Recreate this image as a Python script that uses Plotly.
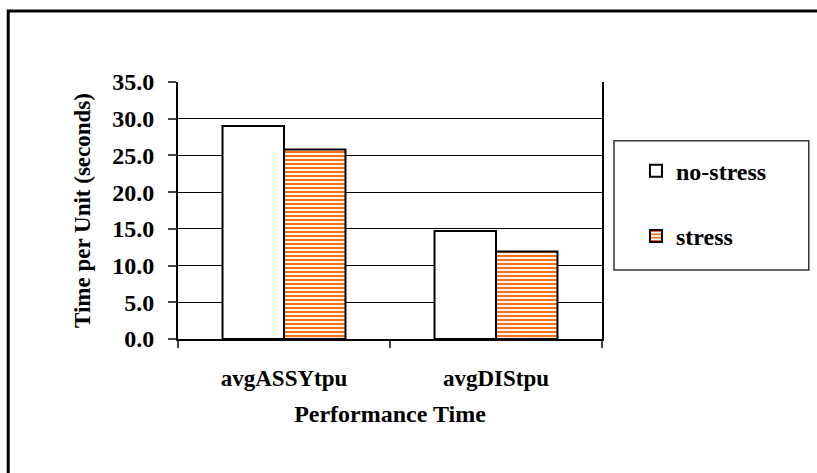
import plotly.graph_objects as go

categories = ["avgASSYtpu", "avgDIStpu"]
no_stress = [29.0, 14.7]
stress = [25.8, 11.9]
series_names = ["no-stress", "stress"]
y_ticks = [0, 5, 10, 15, 20, 25, 30, 35]

FONT = "Liberation Serif"

# plot area in pixels
L, R, T, B = 177.5, 602.0, 82.4, 339.0
W, H = 817, 473
pw, ph = R - L, B - T

def px_x(x):
    return (x - L) / pw

def px_y(y):
    return (B - y) / ph

fig = go.Figure()
fig.add_trace(go.Bar(
    x=categories, y=no_stress, name=series_names[0],
    marker=dict(color="white", line=dict(color="black", width=2)),
    legendgroup="a",
))
fig.add_trace(go.Bar(
    x=categories, y=stress, name=series_names[1],
    marker=dict(color="#FFE6D2", line=dict(color="black", width=2),
                pattern=dict(shape="-", fgcolor="#F26F12", bgcolor="#FFF4EA",
                             size=4, solidity=0.5, fillmode="replace")),
    legendgroup="b",
))

fig.update_layout(
    width=W, height=H,
    margin=dict(l=L, r=W - R, t=T, b=H - B, pad=0),
    paper_bgcolor="white", plot_bgcolor="white",
    barmode="group", bargap=0.42, bargroupgap=0,
    font=dict(family=FONT, color="black", size=22, weight="bold"),
    showlegend=True,
    legend=dict(
        x=px_x(636), y=px_y(149), xanchor="left", yanchor="top",
        bgcolor="rgba(0,0,0,0)", borderwidth=0,
        font=dict(family=FONT, size=24, color="black", weight="bold"),
        tracegroupgap=31, itemwidth=30,
    ),
    xaxis=dict(
        showline=True, linecolor="black", linewidth=2,
        ticks="outside", tickson="boundaries", ticklen=7, tickcolor="#444", tickwidth=2,
        tickfont=dict(family=FONT, size=23, weight="bold"),
        ticklabelstandoff=17,
        title=dict(text="Performance Time", font=dict(family=FONT, size=24, weight="bold"), standoff=16),
        automargin=False, showgrid=False,
    ),
    yaxis=dict(
        range=[0, 35], tickvals=y_ticks, tickformat=".1f",
        showline=True, linecolor="black", linewidth=2, mirror=True,
        showgrid=True, gridcolor="black", gridwidth=1,
        ticks="outside", ticklen=8, tickcolor="#444", tickwidth=2,
        tickfont=dict(family=FONT, size=24, weight="bold"),
        ticklabelstandoff=9,
        title=dict(text="Time per Unit (seconds)", font=dict(family=FONT, size=23, weight="bold"), standoff=15),
        automargin=False, zeroline=False,
    ),
    shapes=[
        # legend frame
        dict(type="rect", xref="paper", yref="paper",
             x0=px_x(614), x1=px_x(809), y0=px_y(270), y1=px_y(141),
             line=dict(color="#333", width=1.5), fillcolor="rgba(0,0,0,0)", layer="below"),
        # outer chart frame (right/bottom fall outside the view)
        dict(type="rect", xref="paper", yref="paper",
             x0=px_x(7.5), x1=px_x(830), y0=px_y(490), y1=px_y(11.5),
             line=dict(color="black", width=3), fillcolor="rgba(0,0,0,0)", layer="below"),
    ],
)

fig.write_html("out.html", config={"displayModeBar": False},
               post_script="document.body.style.margin='0px';document.body.style.overflow='hidden';")
